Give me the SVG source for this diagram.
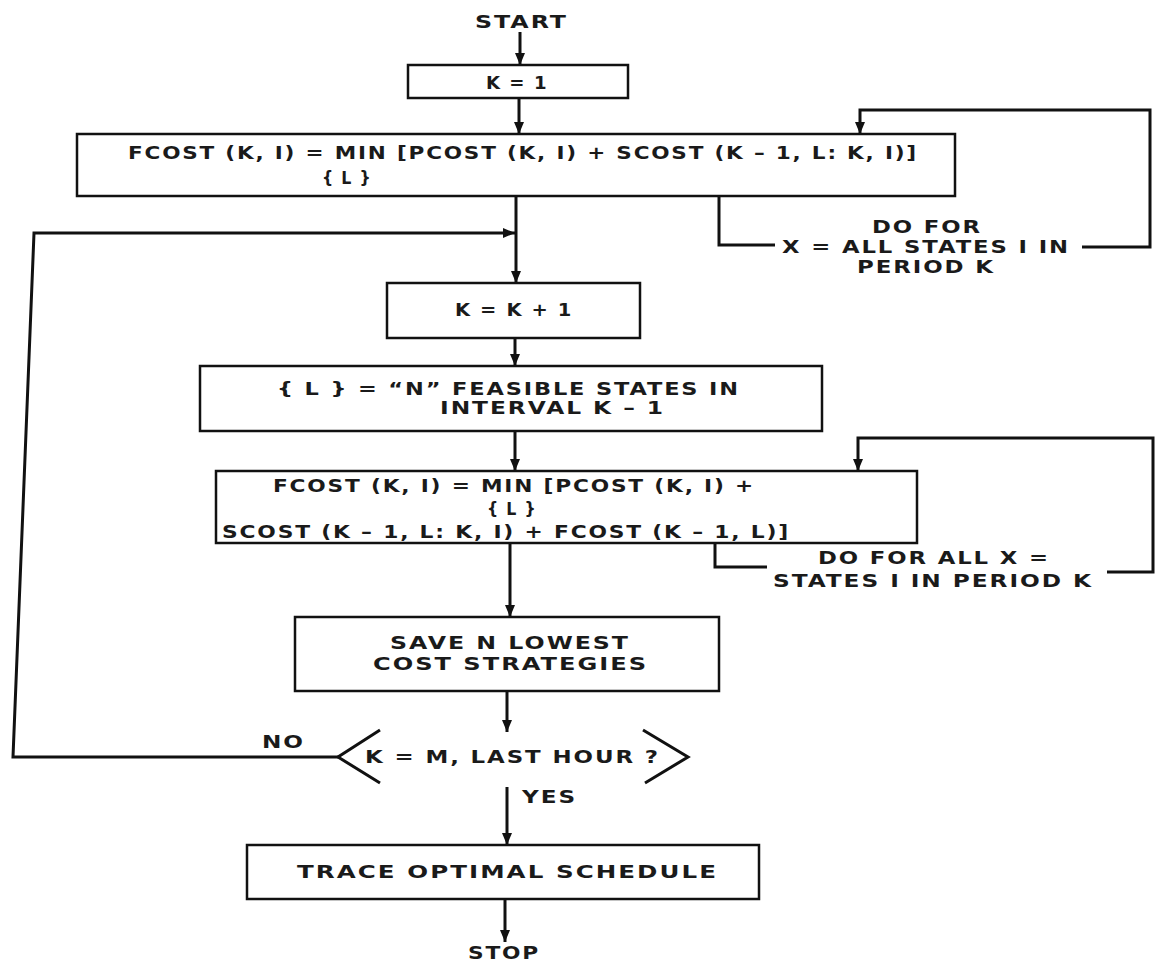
<svg xmlns="http://www.w3.org/2000/svg" width="1160" height="967" viewBox="0 0 1160 967">
<style>
.box{fill:#fff;stroke:#111;stroke-width:2.5}
.ln{fill:none;stroke:#111;stroke-width:3}
.t{font-family:"DejaVu Sans","Liberation Sans",Arial,sans-serif;font-weight:bold;font-size:18px;letter-spacing:1.5px;fill:#1a1a1a}
</style>
<defs>
<marker id="ah" markerUnits="userSpaceOnUse" markerWidth="12" markerHeight="10" refX="12" refY="5" orient="auto">
<path d="M0,0 L12,5 L0,10 z" fill="#111"/>
</marker>
</defs>
<rect width="1160" height="967" fill="#fff"/>
<g id="connectors">
<line class="ln" x1="520" y1="32" x2="520" y2="65" marker-end="url(#ah)"/>
<line class="ln" x1="519" y1="98" x2="519" y2="134" marker-end="url(#ah)"/>
<line class="ln" x1="516" y1="196" x2="516" y2="283" marker-end="url(#ah)"/>
<polyline class="ln" points="719,196 719,245 775,245"/>
<polyline class="ln" points="1082,247 1150,247 1150,110 860,110 860,134" marker-end="url(#ah)"/>
<polyline class="ln" points="338,757 13,757 34,233 515,233" marker-end="url(#ah)"/>
<line class="ln" x1="515" y1="338" x2="515" y2="366" marker-end="url(#ah)"/>
<line class="ln" x1="515" y1="431" x2="515" y2="471" marker-end="url(#ah)"/>
<polyline class="ln" points="715,543 715,567 767,567"/>
<polyline class="ln" points="1107,572 1153,572 1153,438 858,438 858,471" marker-end="url(#ah)"/>
<line class="ln" x1="510" y1="543" x2="510" y2="617" marker-end="url(#ah)"/>
<line class="ln" x1="507" y1="691" x2="507" y2="732" marker-end="url(#ah)"/>
<line class="ln" x1="507" y1="787" x2="507" y2="845" marker-end="url(#ah)"/>
<line class="ln" x1="505" y1="899" x2="505" y2="942" marker-end="url(#ah)"/>
</g>
<g id="start"><text class="t" x="475" y="28" font-size="16.5" textLength="93" lengthAdjust="spacingAndGlyphs">START</text></g>
<g id="k1">
<rect class="box" x="408" y="65" width="220" height="33"/>
<text class="t" x="486" y="89" textLength="62" lengthAdjust="spacingAndGlyphs">K = 1</text>
</g>
<g id="fcost1">
<rect class="box" x="77" y="134" width="878" height="62"/>
<text class="t" x="128" y="159" textLength="790" lengthAdjust="spacingAndGlyphs">FCOST (K, I) = MIN [PCOST (K, I) + SCOST (K – 1, L: K, I)]</text>
<text class="t" x="322" y="184" textLength="50" lengthAdjust="spacingAndGlyphs">{ L }</text>
</g>
<g id="label1">
<text class="t" x="872" y="233" textLength="110" lengthAdjust="spacingAndGlyphs">DO FOR</text>
<text class="t" x="782" y="253" textLength="288" lengthAdjust="spacingAndGlyphs">X = ALL STATES I IN</text>
<text class="t" x="857" y="273" textLength="138" lengthAdjust="spacingAndGlyphs">PERIOD K</text>
</g>
<g id="kk1">
<rect class="box" x="387" y="283" width="253" height="55"/>
<text class="t" x="455" y="316" textLength="118" lengthAdjust="spacingAndGlyphs">K = K + 1</text>
</g>
<g id="lset">
<rect class="box" x="200" y="366" width="622" height="65"/>
<text class="t" x="277" y="395" textLength="463" lengthAdjust="spacingAndGlyphs">{ L } =  “N”  FEASIBLE STATES IN</text>
<text class="t" x="440" y="414" textLength="225" lengthAdjust="spacingAndGlyphs">INTERVAL K – 1</text>
</g>
<g id="fcost2">
<rect class="box" x="216" y="471" width="701" height="72"/>
<text class="t" x="273" y="492" textLength="482" lengthAdjust="spacingAndGlyphs">FCOST (K, I) = MIN [PCOST (K, I) +</text>
<text class="t" x="487" y="515" textLength="50" lengthAdjust="spacingAndGlyphs">{ L }</text>
<text class="t" x="222" y="538" textLength="568" lengthAdjust="spacingAndGlyphs">SCOST (K – 1, L: K, I) + FCOST (K – 1, L)]</text>
</g>
<g id="label2">
<text class="t" x="818" y="564" textLength="232" lengthAdjust="spacingAndGlyphs">DO FOR ALL X =</text>
<text class="t" x="773" y="587" textLength="320" lengthAdjust="spacingAndGlyphs">STATES I IN PERIOD K</text>
</g>
<g id="save">
<rect class="box" x="295" y="617" width="424" height="74"/>
<text class="t" x="390" y="649" textLength="240" lengthAdjust="spacingAndGlyphs">SAVE N LOWEST</text>
<text class="t" x="373" y="670" textLength="275" lengthAdjust="spacingAndGlyphs">COST STRATEGIES</text>
</g>
<g id="decision">
<polyline class="ln" points="380,730 338,757 380,783"/>
<polyline class="ln" points="643,730 688,757 645,783"/>
<text class="t" x="365" y="763" textLength="295" lengthAdjust="spacingAndGlyphs">K = M, LAST HOUR ?</text>
<text class="t" x="262" y="748" textLength="43" lengthAdjust="spacingAndGlyphs">NO</text>
<text class="t" x="522" y="803" textLength="55" lengthAdjust="spacingAndGlyphs">YES</text>
</g>
<g id="trace">
<rect class="box" x="247" y="845" width="512" height="54"/>
<text class="t" x="297" y="878" textLength="421" lengthAdjust="spacingAndGlyphs">TRACE OPTIMAL SCHEDULE</text>
</g>
<g id="stop"><text class="t" x="468" y="959" textLength="72" lengthAdjust="spacingAndGlyphs">STOP</text></g>
</svg>
